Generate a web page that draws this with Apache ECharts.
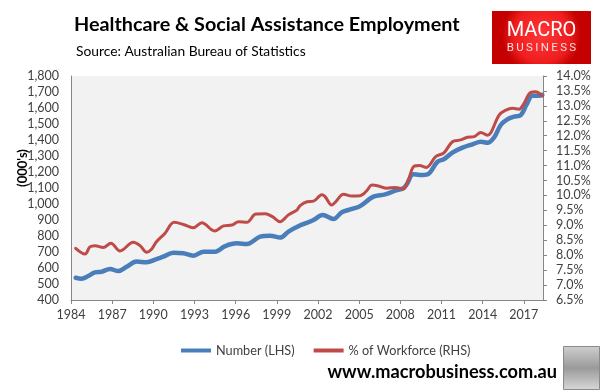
<!DOCTYPE html>
<html>
<head>
<meta charset="utf-8">
<script src="https://cdn.jsdelivr.net/npm/echarts@6/dist/echarts.min.js"></script>
<style>
html,body{margin:0;padding:0;background:#fff;}
#c{width:605px;height:392px;}
</style>
</head>
<body>
<div id="c"></div>
<script>
// ---- data ----
var xTickYears = [1984, 1987, 1990, 1993, 1996, 1999, 2002, 2005, 2008, 2011, 2014, 2017];
var leftTicks = [400, 500, 600, 700, 800, 900, 1000, 1100, 1200, 1300, 1400, 1500, 1600, 1700, 1800];
var rightTicks = [6.5, 7, 7.5, 8, 8.5, 9, 9.5, 10, 10.5, 11, 11.5, 12, 12.5, 13, 13.5, 14];

var numberYears = [1984.34, 1984.77, 1985.26, 1985.75, 1986.23, 1986.84, 1987.44, 1988.05, 1988.78, 1989.51,
  1990.23, 1990.72, 1991.45, 1992.18, 1992.93, 1993.66, 1994.51, 1995.24, 1996.09, 1996.82,
  1997.79, 1998.52, 1999.24, 1999.85, 2000.6, 2001.3, 2001.67, 2002.35, 2003.13, 2003.74,
  2004.47, 2005.07, 2006.04, 2006.89, 2007.62, 2008.22, 2008.47, 2008.95, 2009.44, 2009.98,
  2010.71, 2011.2, 2011.8, 2012.53, 2013.26, 2013.87, 2014.35, 2014.84, 2015.32, 2015.8,
  2016.29, 2016.78, 2017.19, 2017.63, 2018.12, 2018.35];
var numberValues = [539, 533, 550, 573, 577, 594, 581, 608, 640, 636,
  656, 671, 696, 692, 677, 702, 702, 737, 754, 750,
  796, 802, 790, 827, 862, 886, 900, 931, 906, 948,
  969, 987, 1046, 1060, 1083, 1098, 1123, 1186, 1181, 1185,
  1264, 1281, 1321, 1352, 1373, 1389, 1383, 1417, 1494, 1529,
  1546, 1556, 1619, 1677, 1677, 1682];

var shareYears = [1984.34, 1985.02, 1985.38, 1985.75, 1986.35, 1986.91, 1987.57, 1988.54, 1989.03, 1989.51,
  1989.87, 1990.23, 1990.84, 1991.52, 1992.18, 1992.91, 1993.54, 1994.46, 1995.12, 1995.73,
  1996.21, 1996.82, 1997.47, 1998.15, 1998.68, 1999.24, 1999.85, 2000.46, 2000.7, 2001.2,
  2001.67, 2002.28, 2002.52, 2003.0, 2003.25, 2003.86, 2004.47, 2005.07, 2005.56, 2005.92,
  2006.41, 2007.02, 2007.62, 2008.22, 2008.59, 2009.0, 2009.4, 2009.9, 2010.58, 2011.18,
  2011.8, 2012.41, 2012.89, 2013.38, 2013.87, 2014.35, 2014.6, 2015.2, 2015.7, 2016.17,
  2016.66, 2016.95, 2017.51, 2017.87, 2018.24, 2018.35];
var shareValues = [8.23, 8.04, 8.28, 8.32, 8.26, 8.40, 8.14, 8.43, 8.32, 8.10,
  8.20, 8.45, 8.73, 9.10, 9.03, 8.92, 9.09, 8.81, 8.98, 9.01,
  9.12, 9.10, 9.38, 9.39, 9.29, 9.12, 9.35, 9.51, 9.66, 9.79,
  9.81, 10.02, 9.96, 9.68, 9.77, 10.04, 9.98, 9.99, 10.16, 10.35,
  10.32, 10.24, 10.27, 10.22, 10.52, 10.98, 11.0, 10.94, 11.30, 11.43,
  11.80, 11.86, 11.95, 11.97, 12.11, 12.02, 12.10, 12.69, 12.86, 12.92,
  12.89, 13.03, 13.45, 13.47, 13.39, 13.33];

var seriesNames = ['Number (LHS)', '% of Workforce (RHS)'];

function pairs(xs, ys) { return xs.map(function (x, i) { return [x, ys[i]]; }); }

var chart = echarts.init(document.getElementById('c'), null, {renderer: 'canvas'});
var FONT = 'Lato';
var axisCol = '#868686';
var labCol = '#404040';

chart.setOption({
  animation: false,
  backgroundColor: '#ffffff',
  textStyle: {fontFamily: FONT},
  grid: {left: 71, right: 62, top: 76, bottom: 92, show: true, backgroundColor: '#F2F2F2', borderWidth: 0, containLabel: false},
  legend: {
    left: 176, top: 339, itemWidth: 30, itemHeight: 4, itemGap: 19,
    icon: 'rect',
    textStyle: {fontFamily: FONT, fontSize: 12.7, color: labCol},
    data: seriesNames
  },
  xAxis: {
    type: 'value', min: 1984, max: 2018.4, interval: 3,
    axisLine: {show: true, lineStyle: {color: axisCol, width: 1}},
    axisTick: {show: true, length: 4, lineStyle: {color: axisCol}, customValues: xTickYears},
    axisLabel: {color: labCol, fontSize: 12.5, margin: 8, customValues: xTickYears, formatter: function (v) { return String(v); }},
    splitLine: {show: false}
  },
  yAxis: [{
    type: 'value', min: 400, max: 1800, interval: 100, position: 'left',
    axisLine: {show: true, lineStyle: {color: axisCol}},
    axisTick: {show: false},
    axisLabel: {color: labCol, fontSize: 12.5, margin: 12, formatter: function (v) { return v.toLocaleString('en-US'); }},
    splitLine: {show: false}
  }, {
    type: 'value', min: 6.5, max: 14, interval: 0.5, position: 'right',
    axisLine: {show: true, lineStyle: {color: axisCol}},
    axisTick: {show: true, length: 4, lineStyle: {color: axisCol}},
    axisLabel: {color: labCol, fontSize: 12.5, margin: 13, formatter: function (v) { return v.toFixed(1) + '%'; }},
    splitLine: {show: false}
  }],
  series: [{
    name: seriesNames[0], type: 'line', yAxisIndex: 0, smooth: 0.35, showSymbol: false,
    data: pairs(numberYears, numberValues),
    lineStyle: {color: '#4A7EBB', width: 4.5, cap: 'round', join: 'round'},
    itemStyle: {color: '#4A7EBB'}
  }, {
    name: seriesNames[1], type: 'line', yAxisIndex: 1, smooth: 0.35, showSymbol: false,
    data: pairs(shareYears, shareValues),
    lineStyle: {color: '#BE4B48', width: 3, cap: 'round', join: 'round'},
    itemStyle: {color: '#BE4B48'}
  }],
  graphic: [
    {type: 'text', left: 74, top: 15, style: {text: 'Healthcare & Social Assistance Employment', fontFamily: FONT, fontWeight: 'bold', fontSize: 19.8, fill: '#000'}},
    {type: 'text', left: 76, top: 45, style: {text: 'Source: Australian Bureau of Statistics', fontFamily: FONT, fontSize: 13.8, fill: '#000'}},
    {type: 'rect', shape: {x: 492, y: 11, width: 99, height: 53},
      style: {fill: new echarts.graphic.RadialGradient(0.5, 0.45, 0.75, [{offset: 0, color: '#FF3535'}, {offset: 0.7, color: '#F01E1E'}, {offset: 1, color: '#C40000'}])}},
    {type: 'text', x: 541.5, y: 31, style: {text: 'MACRO', fontFamily: 'Roboto', fontSize: 20, fill: '#ffffff', align: 'center', verticalAlign: 'middle'}},
    {type: 'text', x: 541.5, y: 48, style: {text: 'B\u2009U\u2009S\u2009I\u2009N\u2009E\u2009S\u2009S', fontFamily: 'Roboto', fontSize: 11.5, fill: '#F4E0E0', align: 'center', verticalAlign: 'middle'}},
    {type: 'text', rotation: Math.PI / 2, x: 23, y: 168, style: {text: "(000's)", fontFamily: FONT, fontWeight: 'bold', fontSize: 13, fill: '#000', align: 'center', verticalAlign: 'middle'}},
    {type: 'text', x: 557, y: 372, style: {text: 'www.macrobusiness.com.au', fontFamily: FONT, fontWeight: 'bold', fontSize: 18.2, fill: '#000', align: 'right', verticalAlign: 'middle'}},
    {type: 'rect', shape: {x: 563.5, y: 346.5, width: 36, height: 43},
      style: {fill: new echarts.graphic.LinearGradient(0, 0, 0, 1, [{offset: 0, color: '#cfcfcf'}, {offset: 0.5, color: '#9a9a9a'}, {offset: 1, color: '#d8d8d8'}]), stroke: '#8a8a8a', lineWidth: 1}}
  ]
});
</script>
</body>
</html>
